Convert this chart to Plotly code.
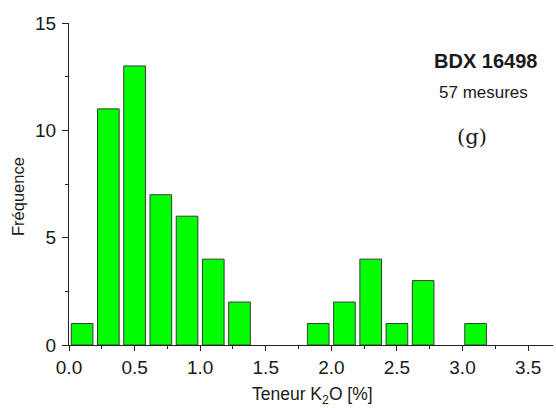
import plotly.graph_objects as go

# Histogram of K2O content (bin centres, width 0.2 %)
bin_centres = [0.1, 0.3, 0.5, 0.7, 0.9, 1.1, 1.3, 1.9, 2.1, 2.3, 2.5, 2.7, 3.1]
counts = [1, 11, 13, 7, 6, 4, 2, 1, 2, 4, 1, 3, 1]
x_ticks = [0.0, 0.5, 1.0, 1.5, 2.0, 2.5, 3.0, 3.5]
y_ticks = [0, 5, 10, 15]

fig = go.Figure()
fig.add_trace(go.Bar(
    x=bin_centres, y=counts, width=0.165,
    marker=dict(color="#00FF00", line=dict(color="#3a3a3a", width=1)),
))

font = "Liberation Sans, Arial, sans-serif"
fig.update_layout(
    width=556, height=408,
    margin=dict(l=69, r=3, t=23, b=63),
    plot_bgcolor="white", paper_bgcolor="white",
    showlegend=False,
    font=dict(family=font, color="#1a1a1a"),
    xaxis=dict(
        range=[0, 3.69], tickvals=x_ticks, ticktext=[f"{v:.1f}" for v in x_ticks],
        showline=True, linecolor="#222", linewidth=1, showgrid=False, zeroline=False,
        ticks="outside", ticklen=5, tickcolor="#222",
        minor=dict(tickvals=[0.25, 0.75, 1.25, 1.75, 2.25, 2.75, 3.25],
                   ticks="outside", ticklen=3, tickcolor="#222"),
        tickfont=dict(size=19, family=font), ticklabelstandoff=0,
    ),
    yaxis=dict(
        range=[0, 15], tickvals=y_ticks,
        showline=True, linecolor="#222", linewidth=1, showgrid=False, zeroline=False,
        ticks="outside", ticklen=6, tickcolor="#222",
        minor=dict(tickvals=[2.5, 7.5, 12.5], ticks="outside", ticklen=3, tickcolor="#222"),
        tickfont=dict(size=19, family=font), ticklabelstandoff=2,
    ),
)

# Text annotations given in pixel positions, converted to paper units
W, H = 556, 408
L, R, T, B = 69, 3, 23, 63
pw, ph = W - L - R, H - T - B


def label(text, px, py, size, family=font, angle=0):
    fig.add_annotation(
        text=text, xref="paper", yref="paper",
        x=(px - L) / pw, y=(H - B - py) / ph,
        xanchor="center", yanchor="middle", showarrow=False, textangle=angle,
        font=dict(size=size, family=family, color="#1a1a1a"),
    )


label("Fréquence", 18, 197, 16.5, angle=-90)
label("Teneur K<sub>2</sub>O [%]", 312, 395, 17.5)
label("<b>BDX 16498</b>", 485, 61, 20)
label("57 mesures", 483, 92, 17)
label("(g)", 472, 137, 21, family="DejaVu Serif, Liberation Serif, serif")

fig.write_html("out.html")
